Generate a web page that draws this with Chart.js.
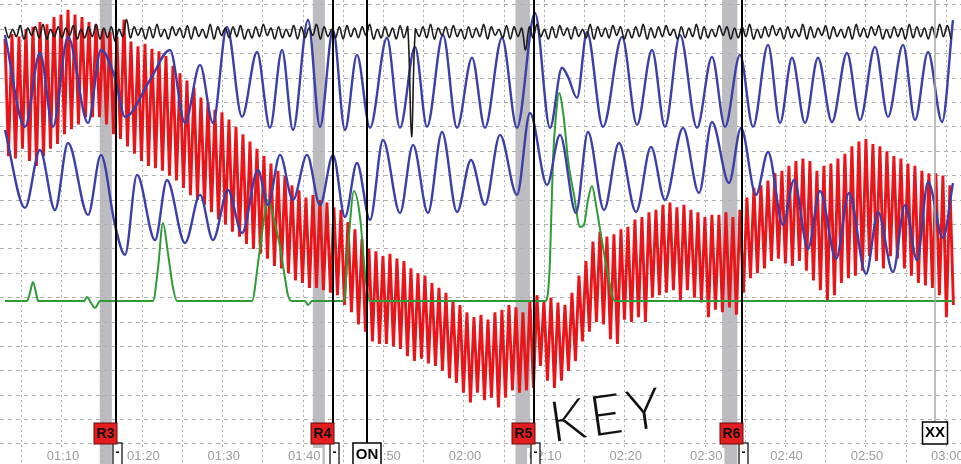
<!DOCTYPE html>
<html>
<head>
<meta charset="utf-8">
<title>Chart</title>
<script src="https://cdn.jsdelivr.net/npm/chart.js@4.4.1/dist/chart.umd.min.js"></script>
<style>
    html, body { margin: 0; padding: 0; background: #fff; }
    #wrap { width: 961px; height: 464px; }
</style>
</head>
<body>
<div id="wrap"><canvas id="chart" width="961" height="464"></canvas></div>
<script>
// time axis (seconds from start of the exam)
const timeLabels = ["01:10", "01:20", "01:30", "01:40", "01:50", "02:00", "02:10", "02:20", "02:30", "02:40", "02:50", "03:00"];
const labelSeconds = [70, 80, 90, 100, 110, 120, 130, 140, 150, 160, 170, 180];
const gridSeconds = [65, 70, 75, 80, 85, 90, 95, 100, 105, 110, 115, 120, 125, 130, 135, 140, 145, 150, 155, 160, 165, 170, 175, 180];
const gridLevels = [0, 10, 20, 30, 40, 50, 60, 70, 80, 90, 100, 110, 120, 130, 140, 150, 160, 170, 180];

// questions and events
const questionLabels = ["R3", "R4", "R5", "R6"];
const questionOnset = [74.7, 101.2, 126.4, 152.1];
const questionEnd = [76.2, 102.7, 128.2, 154.0];
const answerTimes = [76.7, 103.7, 128.7, 154.6];
const eventLabels = ["ON", "XX"];
const eventTimes = [107.9, 178.6];

// top channel: one peak and one trough per cycle
const topStart = 62.91;
const topHalfCycle = 0.4726;
const topPeaks = [
    171, 170, 171.5, 170.5, 171, 172, 170, 171, 170.5, 171.5,
    170, 171, 172, 170.5, 171, 170, 174, 171, 170.5, 171,
    172, 170, 171, 170.5, 171.5, 171, 170, 172, 171, 170.5,
    171, 171.5, 170, 171, 172, 170.5, 171, 170, 171.5, 171,
    170.5, 172, 171, 170, 171, 171.5, 170.5, 171, 172, 170,
    171, 170.5, 171.5, 171, 170, 171, 172, 170.5, 171, 171.5,
    170, 171, 170.5, 172, 171, 170, 171.5, 171, 170.5, 171,
    172, 170, 171, 171.5, 170.5, 171, 170, 172, 171, 170.5,
    171.5, 171, 170, 171, 172, 170.5, 171, 171.5, 170, 171,
    170.5, 172, 171, 170, 171.5, 171, 170.5, 171, 172, 170,
    171, 171.5, 170.5, 171, 170, 172, 171, 170.5, 171.5, 171,
    170, 171, 172, 170.5, 171, 171.5, 170, 171, 170.5, 172,
    171, 170.5, 171, 172, 171.5
];
const topTroughs = [
    166.5, 167, 166, 167.5, 166.5, 166, 167, 166.5, 167.5, 166,
    166.5, 167, 166, 166.5, 165, 167, 166.5, 167.5, 166, 166.5,
    167, 166, 167.5, 166.5, 166, 167, 166.5, 166, 167.5, 166.5,
    167, 166, 166.5, 167, 167.5, 166, 166.5, 167, 166, 166.5,
    167.5, 166, 167, 166.5, 166, 167, 166.5, 167.5, 166, 166.5,
    167, 166, 166.5, 126, 167, 166.5, 166, 167.5, 166.5, 167,
    166, 166.5, 167, 166, 167.5, 166.5, 166, 167, 161.5, 166.5,
    167, 166, 166.5, 167.5, 166, 167, 166.5, 166, 167, 166.5,
    167.5, 166, 166.5, 167, 166, 166.5, 167, 167.5, 166, 166.5,
    167, 166, 166.5, 167, 167.5, 166, 166.5, 167, 166, 166.5,
    167, 167.5, 166, 166.5, 167, 166, 166.5, 167.5, 166, 167,
    166.5, 166, 167, 166.5, 167.5, 166, 166.5, 167, 166, 166.5,
    167, 166, 166.5, 167, 166
];

// upper respiration
const thoracicTimes = [62.91, 65.40, 67.26, 68.88, 70.75, 73.24, 74.85, 76.59, 77.84, 80.95, 83.43, 85.30, 87.17, 88.78, 90.52, 92.39, 94.26, 95.87, 97.37, 98.73, 100.60, 102.09, 103.71, 105.20, 106.69, 108.31, 110.42, 112.04, 113.91, 115.40, 117.39, 119.13, 121.00, 122.61, 124.73, 126.59, 128.83, 130.70, 132.19, 132.94, 134.06, 135.30, 137.29, 139.66, 141.52, 143.39, 145.00, 146.87, 148.98, 150.85, 152.47, 154.33, 155.95, 157.82, 159.31, 160.80, 162.42, 164.03, 165.77, 167.64, 169.26, 171.12, 172.74, 174.61, 176.10, 177.72, 179.46, 180.82];
const thoracicValues = [167.7, 130.0, 160.3, 130.0, 166.9, 131.6, 161.5, 150.1, 134.1, 149.2, 161.5, 131.6, 155.4, 131.6, 171.0, 134.1, 160.7, 129.6, 161.5, 128.7, 173.8, 130.0, 169.7, 128.7, 159.5, 129.6, 166.5, 129.6, 162.8, 130.0, 167.7, 129.6, 158.3, 129.6, 166.5, 129.6, 176.7, 129.6, 154.2, 150.5, 141.9, 168.9, 130.0, 166.9, 130.8, 161.5, 130.0, 167.7, 129.6, 158.7, 130.0, 159.5, 130.0, 163.6, 131.6, 158.3, 131.6, 158.3, 132.0, 160.3, 132.8, 162.8, 134.1, 163.6, 132.8, 160.7, 132.0, 173.8];

// lower respiration
const abdominalTimes = [62.91, 65.40, 67.26, 69.13, 70.75, 73.24, 74.85, 76.59, 77.84, 79.33, 81.57, 83.06, 85.30, 87.17, 88.78, 90.65, 92.39, 94.38, 95.62, 97.12, 98.73, 100.48, 102.09, 103.71, 105.20, 106.69, 108.31, 109.93, 112.04, 113.66, 115.52, 117.27, 119.13, 120.87, 122.61, 124.48, 126.59, 128.21, 130.33, 131.94, 133.93, 135.42, 137.42, 139.28, 141.40, 143.26, 145.00, 147.24, 149.23, 150.85, 152.96, 154.46, 156.32, 157.82, 159.68, 161.05, 162.79, 164.28, 166.28, 167.89, 170.01, 171.50, 173.36, 174.86, 176.35, 177.72, 179.58, 180.82];
const abdominalValues = [128.7, 96.8, 120.5, 95.9, 123.4, 93.9, 118.5, 89.8, 77.5, 110.3, 83.6, 108.2, 82.4, 102.1, 83.6, 104.1, 86.5, 112.3, 98.0, 118.5, 100.0, 118.5, 98.0, 118.5, 93.1, 115.2, 91.8, 124.6, 94.7, 122.6, 94.7, 127.9, 95.1, 116.4, 98.0, 126.7, 102.1, 135.7, 106.2, 126.7, 94.7, 127.9, 95.9, 123.4, 95.1, 121.8, 100.0, 129.6, 102.9, 132.0, 107.0, 129.6, 102.1, 119.7, 89.8, 108.2, 80.0, 103.7, 75.9, 102.9, 69.7, 95.1, 70.5, 98.0, 75.4, 107.4, 84.5, 107.0];

// electrodermal
const edaTimes = [62.91, 65.65, 66.02, 66.39, 66.77, 67.02, 72.74, 73.11, 73.48, 74.11, 74.73, 81.32, 81.94, 82.56, 83.19, 83.81, 84.31, 93.63, 94.38, 94.88, 95.62, 96.37, 97.12, 97.74, 98.11, 98.61, 100.23, 100.60, 101.10, 105.08, 105.57, 106.32, 107.07, 107.69, 108.31, 130.08, 130.45, 130.70, 131.07, 131.45, 131.82, 132.44, 132.94, 133.69, 134.43, 134.93, 135.42, 135.92, 136.42, 136.92, 137.79, 138.53, 138.78, 180.82];
const edaValues = [58.6, 58.6, 62.0, 66.4, 62.0, 58.6, 58.6, 60.3, 58.6, 55.8, 58.6, 58.6, 72.0, 90.6, 78.0, 64.0, 58.6, 58.6, 74.0, 86.5, 100.0, 92.0, 80.8, 68.0, 61.0, 58.6, 58.6, 57.0, 58.6, 58.6, 80.0, 103.7, 93.1, 70.0, 58.6, 58.6, 62.0, 75.4, 116.4, 135.0, 143.9, 133.0, 116.4, 102.0, 89.0, 90.0, 100.0, 105.8, 98.0, 88.0, 71.3, 60.0, 58.6, 58.6];

// cardio: systolic and diastolic value of each beat
const cardioStart = 62.91;
const cardioHalfBeat = 0.4353;
const cardioPeaks = [
    166, 168, 167, 170, 171, 173, 172, 175, 176, 178,
    176, 175, 173, 172, 170, 169, 167, 174, 165, 163,
    164, 162, 161, 159, 155, 152, 149, 146, 142, 140,
    137, 136, 133, 130, 127, 124, 121, 118, 115, 112,
    110, 106, 104, 101, 102, 100, 99, 97, 96, 91,
    88, 84, 80, 79, 77, 78, 76, 75, 72, 70,
    69, 66, 64, 62, 59, 57, 54, 52, 53, 51,
    54, 55, 57, 56, 54, 59, 61, 59, 60, 58,
    57, 62, 69, 75, 83, 87, 85, 86, 88, 89,
    92, 93, 95, 96, 98, 99, 97, 98, 96, 95,
    93, 94, 94, 95, 93, 96, 101, 105, 106, 108,
    111, 112, 114, 116, 117, 116, 112, 114, 115, 117,
    119, 122, 124, 125, 123, 122, 120, 118, 117, 115,
    114, 112, 111, 111, 110, 106
];
const cardioTroughs = [
    118, 117, 121, 116, 114, 118, 121, 123, 127, 129,
    131, 134, 134, 134, 131, 127, 125, 122, 119, 116,
    114, 113, 112, 110, 108, 105, 102, 100, 98, 95,
    92, 90, 87, 85, 82, 80, 78, 76, 73, 72,
    70, 67, 66, 64, 64, 63, 62, 61, 57, 54,
    49, 46, 42, 41, 41, 40, 39, 36, 34, 35,
    33, 32, 30, 27, 25, 21, 17, 21, 18, 19,
    15, 19, 22, 21, 22, 23, 32, 26, 23, 26,
    30, 34, 42, 46, 50, 49, 43, 41, 51, 50,
    52, 50, 60, 61, 62, 63, 59, 63, 60, 58,
    52, 55, 54, 56, 53, 62, 68, 70, 72, 75,
    76, 74, 73, 75, 71, 67, 63, 59, 61, 66,
    68, 69, 71, 77, 75, 72, 77, 76, 72, 69,
    66, 65, 64, 61, 52, 57
];

document.addEventListener("DOMContentLoaded", function () {
    const ctx = document.getElementById("chart").getContext("2d");

    // peaks and troughs alternate at a fixed sampling step
    function alternate(start, step, highs, lows) {
        const pts = [];
        highs.forEach((h, i) => {
            pts.push({ x: start + 2 * i * step, y: h });
            if (i < lows.length) pts.push({ x: start + (2 * i + 1) * step, y: lows[i] });
        });
        return pts;
    }

    function pairs(times, values) {
        return times.map((t, i) => ({ x: t, y: values[i] }));
    }

    // bands, answer lines, labels and marker boxes
    const markers = {
        id: "markers",
        beforeDatasetsDraw(chart) {
            const c = chart.ctx;
            const x = chart.scales.x;
            c.save();
            c.fillStyle = "rgba(176, 176, 182, 0.85)";
            questionOnset.forEach((t, i) => {
                const x0 = x.getPixelForValue(t);
                const x1 = x.getPixelForValue(questionEnd[i]);
                c.fillRect(x0, 0, x1 - x0, chart.height);
            });
            c.restore();
        },
        afterDatasetsDraw(chart) {
            const c = chart.ctx;
            const x = chart.scales.x;
            c.save();

            // time labels
            c.font = '13px "Liberation Sans", Arial, sans-serif';
            c.textAlign = "center";
            c.textBaseline = "middle";
            timeLabels.forEach((lab, i) => {
                const px = x.getPixelForValue(labelSeconds[i]) + 1;
                const w = c.measureText(lab).width;
                c.fillStyle = "#fff";
                c.fillRect(px - w / 2 - 2, 448, w + 4, 16);
                c.fillStyle = "#9c9c9c";
                c.fillText(lab, px, 456);
            });

            // answer lines with red question boxes
            answerTimes.forEach((t, i) => {
                const lx = Math.round(x.getPixelForValue(t));
                c.strokeStyle = "#000";
                c.lineWidth = 2;
                c.beginPath();
                c.moveTo(lx, 0);
                c.lineTo(lx, 443);
                c.stroke();

                c.fillStyle = "#fff";
                c.fillRect(lx - 3, 443, 9, 24);
                c.lineWidth = 1.2;
                c.strokeRect(lx - 3, 443, 9, 24);
                c.fillStyle = "#000";
                c.font = 'bold 12px "Liberation Sans", Arial, sans-serif';
                c.fillText("-", lx + 1.5, 453);

                c.fillStyle = "#e41e1e";
                c.fillRect(lx - 22, 423, 23, 21);
                c.strokeStyle = "#6a0a0a";
                c.lineWidth = 1;
                c.strokeRect(lx - 22, 423, 23, 21);
                c.fillStyle = "#111";
                c.font = 'bold 14px "Liberation Sans", Arial, sans-serif';
                c.fillText(questionLabels[i], lx - 10.5, 434);
            });

            // ON event
            const onX = Math.round(x.getPixelForValue(eventTimes[0]));
            c.strokeStyle = "#000";
            c.lineWidth = 2;
            c.beginPath();
            c.moveTo(onX, 0);
            c.lineTo(onX, 443);
            c.stroke();
            c.fillStyle = "#fff";
            c.fillRect(onX - 14, 443, 28, 23);
            c.lineWidth = 1.5;
            c.strokeRect(onX - 14, 443, 28, 23);
            c.fillStyle = "#000";
            c.font = 'bold 15px "Liberation Sans", Arial, sans-serif';
            c.fillText(eventLabels[0], onX, 455);

            // XX event
            const xxX = Math.round(x.getPixelForValue(eventTimes[1]));
            c.strokeStyle = "#a8a8a8";
            c.lineWidth = 1.5;
            c.beginPath();
            c.moveTo(xxX, 0);
            c.lineTo(xxX, 422);
            c.stroke();
            c.fillStyle = "#fff";
            c.fillRect(xxX - 12.5, 422, 25, 22);
            c.strokeStyle = "#000";
            c.lineWidth = 1.5;
            c.strokeRect(xxX - 12.5, 422, 25, 22);
            c.fillStyle = "#000";
            c.fillText(eventLabels[1], xxX, 433);

            // handwritten note
            c.translate(610, 434);
            c.rotate(-0.14);
            c.font = '300 56px Lato, "Open Sans", sans-serif';
            c.textBaseline = "alphabetic";
            c.letterSpacing = "5px";
            c.fillStyle = "#111";
            c.fillText("KEY", 0, 0);

            c.restore();
        }
    };

    new Chart(ctx, {
        type: "line",
        data: {
            datasets: [{
                label: "Top",
                data: alternate(topStart, topHalfCycle, topPeaks, topTroughs),
                borderColor: "#1c1c1c",
                borderWidth: 1.6,
                tension: 0.35,
            }, {
                label: "Thoracic",
                data: pairs(thoracicTimes, thoracicValues),
                borderColor: "#3b3fa6",
                borderWidth: 2.4,
                cubicInterpolationMode: "monotone",
            }, {
                label: "Abdominal",
                data: pairs(abdominalTimes, abdominalValues),
                borderColor: "#3b3fa6",
                borderWidth: 2.4,
                cubicInterpolationMode: "monotone",
            }, {
                label: "EDA",
                data: pairs(edaTimes, edaValues),
                borderColor: "#2e9b34",
                borderWidth: 2,
                cubicInterpolationMode: "monotone",
            }, {
                label: "Cardio",
                data: alternate(cardioStart, cardioHalfBeat, cardioPeaks, cardioTroughs),
                borderColor: "#e8161b",
                borderWidth: 2.9,
                tension: 0,
            }],
        },
        options: {
            responsive: false,
            animation: false,
            devicePixelRatio: 1,
            layout: { padding: 0 },
            elements: { point: { radius: 0 } },
            plugins: {
                legend: { display: false },
                tooltip: { enabled: false },
            },
            scales: {
                x: {
                    type: "linear",
                    min: 62.29,
                    max: 181.82,
                    afterBuildTicks: function (axis) {
                        axis.ticks = gridSeconds.map(v => ({ value: v }));
                    },
                    ticks: { display: false },
                    grid: { color: "#b0b0b0", lineWidth: 1, drawTicks: false },
                    border: { display: false, dash: [2, 3] },
                },
                y: {
                    min: -8.2,
                    max: 182.0,
                    afterBuildTicks: function (axis) {
                        axis.ticks = gridLevels.map(v => ({ value: v }));
                    },
                    ticks: { display: false },
                    grid: { color: "#b0b0b0", lineWidth: 1, drawTicks: false },
                    border: { display: false, dash: [4, 4] },
                },
            },
        },
        plugins: [markers],
    });
});
</script>
</body>
</html>
